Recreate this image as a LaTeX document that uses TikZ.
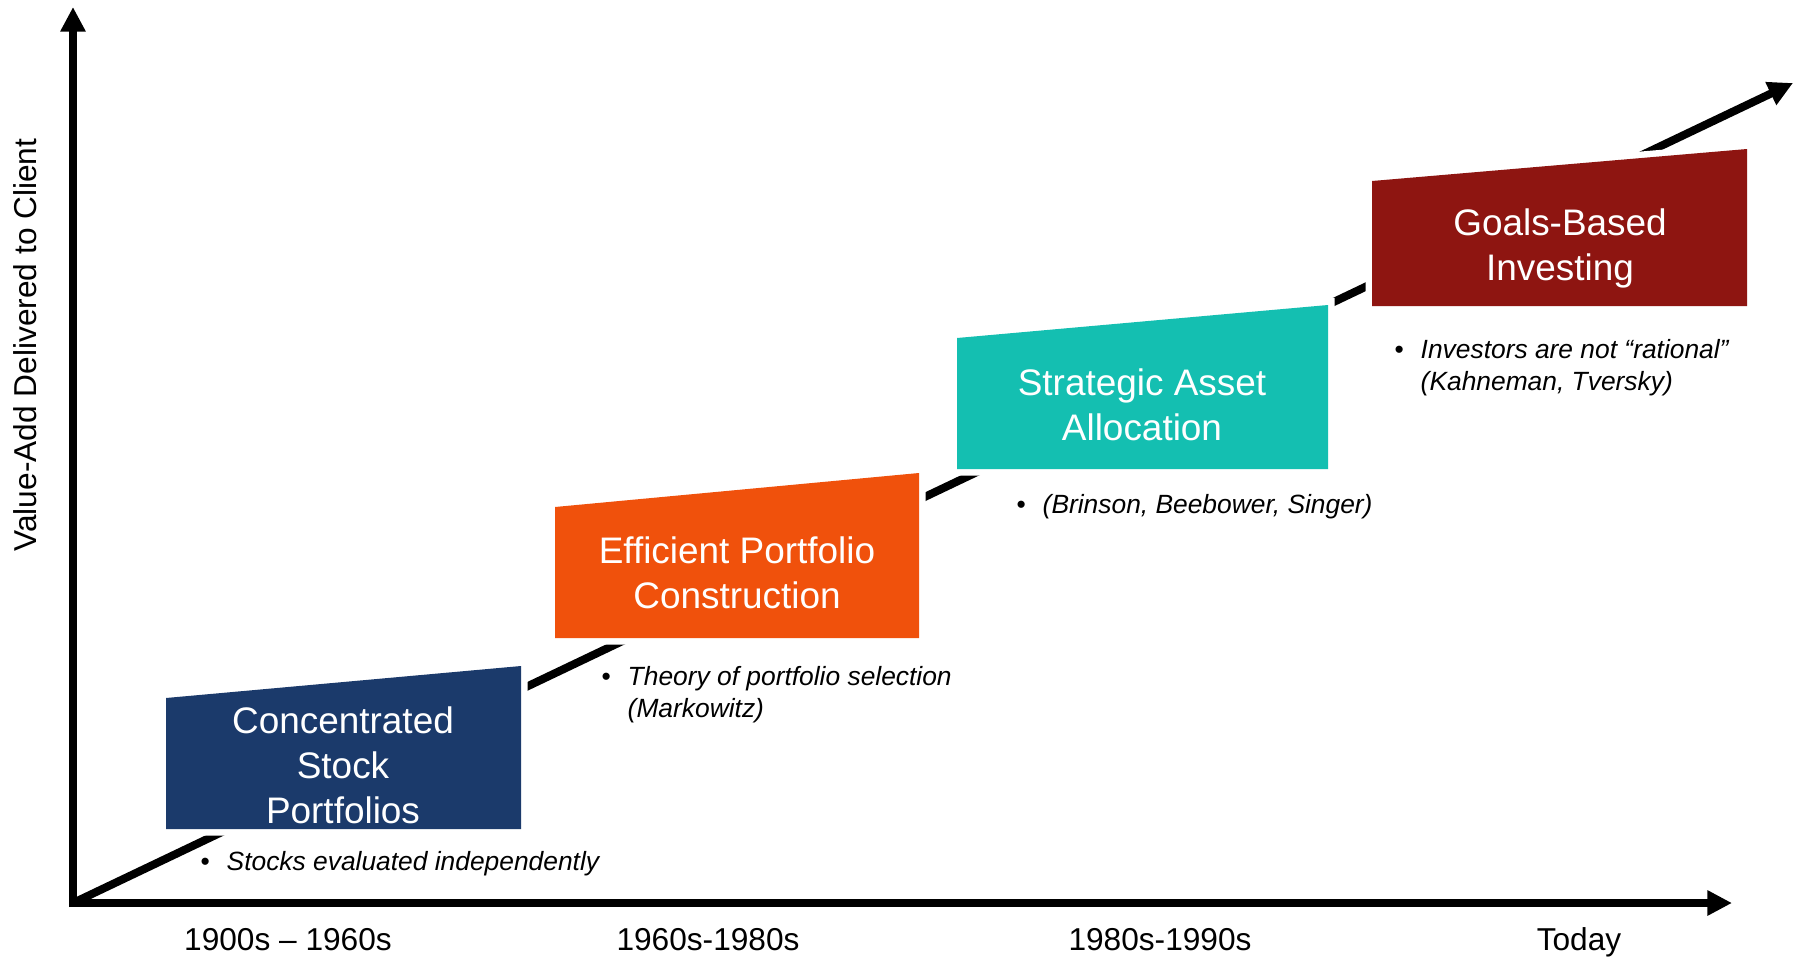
\documentclass[tikz,border=0pt]{standalone}
\usepackage{fontspec}
\setmainfont{Liberation Sans}
\usetikzlibrary{arrows.meta}

\definecolor{eranavy}{HTML}{1B3A6B}
\definecolor{eraorange}{HTML}{F0510C}
\definecolor{erateal}{HTML}{14BFB1}
\definecolor{erared}{HTML}{8E1511}

\begin{document}
\begin{tikzpicture}[x=0.01cm,y=-0.01cm]
\useasboundingbox (0,0) rectangle (1793,957);
\tikzset{
  axis/.style={line width=2.28pt, -{Triangle[length=7pt,width=6.8pt]}},
  era/.style={preaction={draw=white,line width=3.7pt}, fill=#1},
  boxtext/.style={text=white, anchor=base, inner sep=0pt,
    font=\fontsize{10.5}{12.8}\selectfont},
  note/.style={anchor=base west, inner sep=0pt,
    font=\fontsize{7.5}{9.1}\selectfont\itshape},
  period/.style={anchor=base, inner sep=0pt,
    font=\fontsize{9}{10.8}\selectfont},
}

% axes and the rising value line
\coordinate (O) at (73,903);
\coordinate (ybase) at (73,907);
\coordinate (ytip) at (73,7);
\coordinate (xbase) at (69,903);
\coordinate (xtip) at (1732,903);
\coordinate (gtip) at (1793,83);

\draw[axis] (ybase) -- (ytip);
\draw[axis] (xbase) -- (xtip);
\draw[axis] (O) -- (gtip);

% era blocks (white rim masks the value line)
\path[era=eranavy]   (166,829) -- (166,698) -- (521,666) -- (521,829) -- cycle;
\path[era=eraorange] (555,638) -- (555,507) -- (919,473) -- (919,638) -- cycle;
\path[era=erateal]   (957,469) -- (957,338) -- (1328,305) -- (1328,469) -- cycle;
\path[era=erared]    (1372,306) -- (1372,181) -- (1747,149) -- (1747,306) -- cycle;

% block titles
\node[boxtext] (t1) at (343,733)
  {\begin{tabular}[t]{@{}c@{}}Concentrated\\Stock\\Portfolios\end{tabular}};
\node[boxtext] (t2) at (737,563)
  {\begin{tabular}[t]{@{}c@{}}Efficient Portfolio\\Construction\end{tabular}};
\node[boxtext] (t3) at (1142,395)
  {\begin{tabular}[t]{@{}c@{}}Strategic Asset\\Allocation\end{tabular}};
\node[boxtext] (t4) at (1560,235)
  {\begin{tabular}[t]{@{}c@{}}Goals-Based\\Investing\end{tabular}};

% notes under each block
\node[note] (n1) at (200,870)
  {\begin{tabular}[t]{@{}l@{}l@{}}\makebox[0.26cm][l]{\upshape•}&Stocks evaluated independently\end{tabular}};
\node[note] (n2) at (601,685)
  {\begin{tabular}[t]{@{}l@{}l@{}}\makebox[0.26cm][l]{\upshape•}&Theory of portfolio selection\\&(Markowitz)\end{tabular}};
\node[note] (n3) at (1016,513)
  {\begin{tabular}[t]{@{}l@{}l@{}}\makebox[0.26cm][l]{\upshape•}&(Brinson, Beebower, Singer)\end{tabular}};
\node[note] (n4) at (1394,358)
  {\begin{tabular}[t]{@{}l@{}l@{}}\makebox[0.26cm][l]{\upshape•}&Investors are not “rational”\\&(Kahneman, Tversky)\end{tabular}};

% axis labels
\node[period, rotate=90, anchor=center] (ylab) at (25,345) {Value-Add Delivered to Client};
\node[period] (p1) at (288,950) {1900s – 1960s};
\node[period] (p2) at (708,950) {1960s-1980s};
\node[period] (p3) at (1160,950) {1980s-1990s};
\node[period] (p4) at (1579,950) {Today};
\end{tikzpicture}
\end{document}
